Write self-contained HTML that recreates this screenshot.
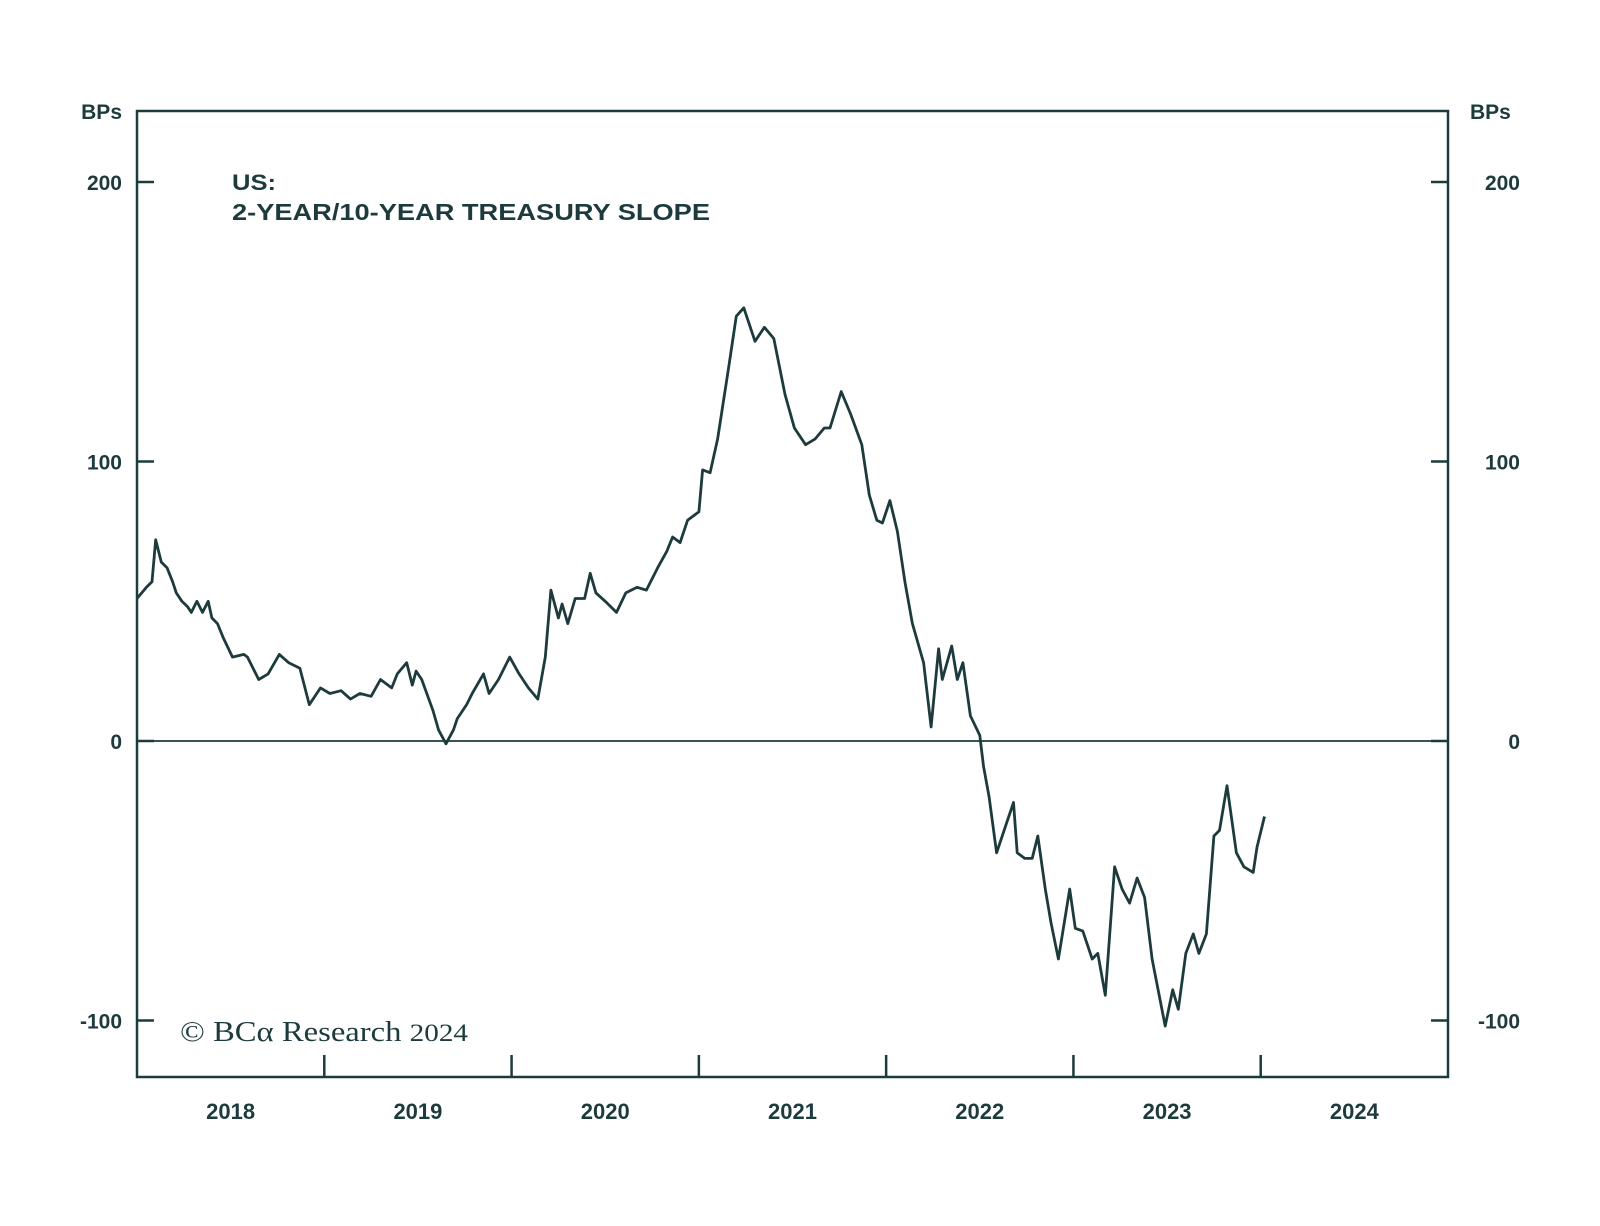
<!DOCTYPE html>
<html><head><meta charset="utf-8"><style>
html,body{margin:0;padding:0;background:#fff;}
svg text{font-family:"Liberation Sans",sans-serif;fill:#1d3b3d;}
</style></head><body>
<svg width="1600" height="1221" viewBox="0 0 1600 1221">
<g id="frame" stroke="#1d3b3d" fill="none"></g>
<path id="series" fill="none" stroke="#1d3b3d" stroke-width="2.8" stroke-linejoin="round"/>
<g id="labels"></g>
<text x="232" y="190" font-size="22" font-weight="bold" textLength="44" lengthAdjust="spacingAndGlyphs">US:</text>
<text x="232" y="220" font-size="23" font-weight="bold" textLength="478" lengthAdjust="spacingAndGlyphs">2-YEAR/10-YEAR TREASURY SLOPE</text>
<text x="180" y="1041" font-size="28" textLength="288" lengthAdjust="spacingAndGlyphs" style="font-family:'Liberation Serif',serif">© BCα Research <tspan font-size="25">2024</tspan></text>
</svg>
<script>
const yearsT = [2018,2019,2020,2021,2022,2023,2024];
const yTicks = [200,100,0,-100];
const dates = [2018.00,2018.05,2018.08,2018.10,2018.13,2018.16,2018.19,2018.21,2018.24,2018.27,2018.29,2018.32,2018.35,2018.38,2018.40,2018.43,2018.46,2018.51,2018.57,2018.59,2018.65,2018.70,2018.76,2018.81,2018.87,2018.92,2018.98,2019.03,2019.09,2019.14,2019.19,2019.25,2019.30,2019.36,2019.39,2019.44,2019.47,2019.49,2019.52,2019.58,2019.61,2019.65,2019.69,2019.71,2019.76,2019.79,2019.85,2019.88,2019.93,2019.99,2020.04,2020.09,2020.14,2020.18,2020.21,2020.25,2020.27,2020.30,2020.34,2020.39,2020.42,2020.45,2020.50,2020.56,2020.61,2020.67,2020.72,2020.78,2020.83,2020.86,2020.90,2020.94,2021.00,2021.02,2021.06,2021.10,2021.16,2021.20,2021.24,2021.30,2021.35,2021.40,2021.46,2021.51,2021.57,2021.62,2021.67,2021.70,2021.76,2021.81,2021.87,2021.91,2021.95,2021.98,2022.02,2022.06,2022.10,2022.14,2022.20,2022.24,2022.28,2022.30,2022.35,2022.38,2022.41,2022.45,2022.50,2022.52,2022.55,2022.59,2022.63,2022.68,2022.70,2022.74,2022.78,2022.81,2022.85,2022.88,2022.92,2022.98,2023.01,2023.05,2023.10,2023.13,2023.17,2023.22,2023.26,2023.30,2023.34,2023.38,2023.42,2023.49,2023.53,2023.56,2023.60,2023.64,2023.67,2023.71,2023.75,2023.78,2023.82,2023.87,2023.91,2023.96,2023.98,2024.02];
const values = [51,55,57,72,64,62,57,53,50,48,46,50,46,50,44,42,37,30,31,30,22,24,31,28,26,13,19,17,18,15,17,16,22,19,24,28,20,25,22,11,4,-1,4,8,13,17,24,17,22,30,24,19,15,30,54,44,49,42,51,51,60,53,50,46,53,55,54,62,68,73,71,79,82,97,96,108,134,152,155,143,148,144,124,112,106,108,112,112,125,117,106,88,79,78,86,75,57,42,28,5,33,22,34,22,28,9,2,-9,-20,-40,-32,-22,-40,-42,-42,-34,-53,-65,-78,-53,-67,-68,-78,-76,-91,-45,-53,-58,-49,-56,-78,-102,-89,-96,-76,-69,-76,-69,-34,-32,-16,-40,-45,-47,-38,-27];
const L=137,R=1448,T=111,B=1077;
const xS=v=>L+(v-2018)/7*(R-L);
const yS=v=>741-v*2.795;
const NS='http://www.w3.org/2000/svg';
function mk(tag,attrs,parent){const e=document.createElementNS(NS,tag);for(const k in attrs)e.setAttribute(k,attrs[k]);parent.appendChild(e);return e;}
const frame=document.getElementById('frame');
const lab=document.getElementById('labels');
const box=mk('rect',{x:L,y:T,width:R-L,height:B-T,'stroke-width':2.5},frame);


const zl=mk('line',{x1:L,x2:R,y1:yS(0),y2:yS(0),'stroke-width':1.8},frame);


yTicks.forEach(v=>{
  const y=yS(v);
  const t1=mk('line',{x1:L,x2:L+17,y1:y,y2:y,'stroke-width':2.5},frame);
  
  
  const t2=mk('line',{x1:R-17,x2:R,y1:y,y2:y,'stroke-width':2.5},frame);
  
  
  const a=mk('text',{x:122,y:y+8,'font-size':21,'font-weight':'bold','text-anchor':'end'},lab);a.textContent=v;
  
  
  const b=mk('text',{x:1520,y:y+8,'font-size':21,'font-weight':'bold','text-anchor':'end'},lab);b.textContent=v;
  
  
});
yearsT.forEach((yr,i)=>{
  if(i>0){const t=mk('line',{x1:xS(yr),x2:xS(yr),y1:B,y2:B-22,'stroke-width':2.5},frame);
  
  }
  const tx=mk('text',{x:xS(yr+0.5),y:1119,'font-size':22,'font-weight':'bold','text-anchor':'middle'},lab);tx.textContent=yr;
  
  
});
[['BPs',122,'end'],['BPs',1470,'start']].forEach(([s,x,an])=>{
  const t=mk('text',{x:x,y:119,'font-size':21,'font-weight':'bold','text-anchor':an},lab);t.textContent=s;
  
  
});
document.getElementById('series').setAttribute('d',dates.map((d,i)=>(i?'L':'M')+xS(d).toFixed(1)+','+yS(values[i]).toFixed(1)).join(''));
</script>
</body></html>
